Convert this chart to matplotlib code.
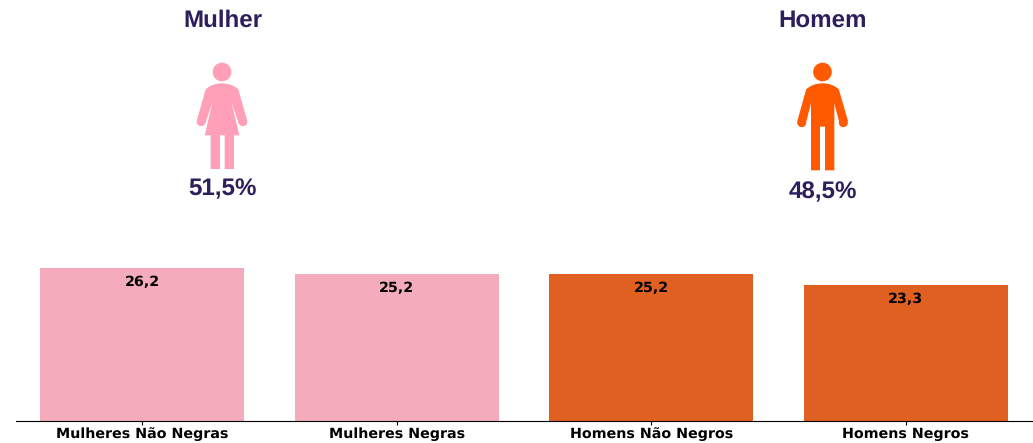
import matplotlib
matplotlib.use("Agg")
import matplotlib.pyplot as plt
from matplotlib.patches import Circle, PathPatch
from matplotlib.path import Path

plt.rcParams["text.hinting"] = "no_hinting"

categories = ["Mulheres Não Negras", "Mulheres Negras", "Homens Não Negros", "Homens Negros"]
values = [26.2, 25.2, 25.2, 23.3]
value_labels = ["26,2", "25,2", "25,2", "23,3"]
bar_colors = ["#f4acbd", "#f4acbd", "#e06022", "#e06022"]

genders = ["Mulher", "Homem"]
gender_shares = ["51,5%", "48,5%"]

W, H = 1033, 443
DARK = "#2d1f5c"
PINK = "#ff9fb8"
ORANGE = "#ff5a00"

woman_outline = [(165, 180), (140, 190), (118, 125), (142, 226), (126, 226), (126, 327), (98, 327),
                 (98, 226), (84, 226), (84, 327), (56, 327), (56, 226), (38, 226), (62, 125),
                 (40, 190), (15, 180)]
man_outline = [(168, 183), (143, 192), (127, 130), (127, 331), (99, 331), (99, 200), (84, 200),
               (84, 331), (57, 331), (57, 130), (41, 192), (16, 183)]

fig = plt.figure(figsize=(W / 100, H / 100), dpi=100)

# bars
ax = fig.add_axes([16 / W, (H - 421) / H, (1032 - 16) / W, 180 / H])
ax.bar(range(len(values)), values, width=0.8, color=bar_colors)
ax.set_xlim(-0.495, 3.495)
ax.set_ylim(0, 180 / 5.85)
ax.set_xticks(range(len(values)))
ax.set_xticklabels(categories, fontsize=10.25, fontweight="bold", color="black", va="baseline")
ax.tick_params(axis="x", length=3, pad=9.2)
ax.set_yticks([])
for side in ["top", "left", "right"]:
    ax.spines[side].set_visible(False)
for i, v in enumerate(values):
    ax.annotate(value_labels[i], (i, v), xytext=(0, -14.5), textcoords="offset pixels",
                ha="center", va="center", fontsize=10.25, fontweight="bold", color="black")

# overlay in pixel coordinates for the people icons
ov = fig.add_axes([0, 0, 1, 1])
ov.set_xlim(0, W)
ov.set_ylim(H, 0)
ov.axis("off")


def person(x0, y0, outline, mid, hand_y, color):
    def px(p):
        return (x0 + p[0] / 3, y0 + p[1] / 3)

    left, right = (mid - 49, 88), (mid + 49, 88)
    verts = [px(left), px((mid - 30, 70)), px((mid, 70)), px((mid + 30, 70)), px(right)]
    codes = [Path.MOVETO, Path.CURVE3, Path.CURVE3, Path.CURVE3, Path.CURVE3]
    verts += [px(p) for p in outline] + [px(left)]
    codes += [Path.LINETO] * len(outline) + [Path.CLOSEPOLY]
    ov.add_patch(PathPatch(Path(verts, codes), facecolor=color, edgecolor="none"))
    ov.add_patch(Circle(px((mid, 36)), 28 / 3, color=color, lw=0))
    for hx in (mid - 62.5, mid + 62.5):
        ov.add_patch(Circle(px((hx, hand_y)), 13.5 / 3, color=color, lw=0))


person(192, 60, woman_outline, 90, 185, PINK)
person(792, 60, man_outline, 91.5, 188, ORANGE)

font = "Liberation Sans"
ov.text(222.5, 20.5, genders[0], ha="center", va="center", fontsize=17.4, fontweight="bold", color=DARK, family=font)
ov.text(823, 20.5, genders[1], ha="center", va="center", fontsize=17.4, fontweight="bold", color=DARK, family=font)
ov.text(222.5, 189, gender_shares[0], ha="center", va="center", fontsize=17.4, fontweight="bold", color=DARK, family=font)
ov.text(823, 192, gender_shares[1], ha="center", va="center", fontsize=17.4, fontweight="bold", color=DARK, family=font)

fig.savefig("out.png", dpi=100)
